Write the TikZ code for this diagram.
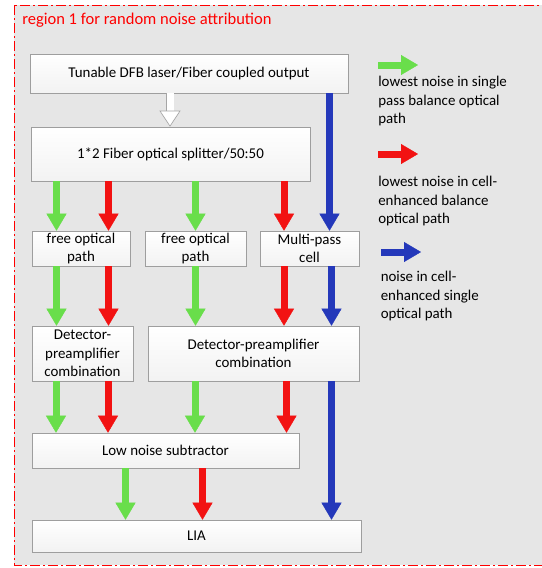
\documentclass[tikz,border=0pt]{standalone}
\usepackage{fontspec}
\setmainfont{Carlito}
\usetikzlibrary{arrows.meta}
\newdimen\px \px=0.75pt
\definecolor{gcol}{RGB}{105,222,75}
\definecolor{rcol}{RGB}{242,18,18}
\definecolor{bcol}{RGB}{36,56,186}
\definecolor{regionbg}{RGB}{230,230,230}

\begin{document}
\begin{tikzpicture}[x=0.75pt, y=-0.75pt,
    font=\fontsize{11.2}{14}\selectfont,
    box/.style={draw=black!38, top color=white, bottom color=black!5, inner sep=1pt, align=center},
    flow/.style={line width=5.25pt, -{Triangle[width=15pt, length=12.75pt, line width=0.3pt]}},
    legtext/.style={anchor=north west, inner sep=0pt, align=left}]
    \useasboundingbox[fill=white] (0,0) rectangle (542,568);
    % region frame
    \fill[regionbg] (14,5) rectangle (560,565);
    \draw[red, line width=1\px, dash pattern=on 10\px off 3\px on 2\px off 3\px] (14,5) rectangle (560,565);
    \node[anchor=west, inner sep=0pt, text=red, font=\fontsize{12.4}{15}\selectfont] (title) at (22,20) {region 1 for random noise attribution};
    % blocks
    \node[box, minimum width=318\px, minimum height=39\px] (laser) at (189,73.5) {Tunable DFB laser/Fiber coupled output};
    \node[box, minimum width=279\px, minimum height=54\px] (splitter) at (170.5,154) {1*2 Fiber optical splitter/50:50};
    \node[box, minimum width=98\px, minimum height=35\px] (free1) at (81,248.5) {free optical\\path};
    \node[box, minimum width=101\px, minimum height=35\px] (free2) at (195.5,248.5) {free optical\\path};
    \node[box, minimum width=99\px, minimum height=35\px] (mpc) at (309.5,248.5) {Multi-pass\\cell};
    \node[box, minimum width=101\px, minimum height=55\px] (det1) at (82.5,353.5) {Detector-\\preamplifier\\combination};
    \node[box, minimum width=211\px, minimum height=55\px] (det2) at (253.5,353.5) {Detector-preamplifier\\combination};
    \node[box, minimum width=267\px, minimum height=35\px] (sub) at (165.5,450.5) {Low noise subtractor};
    \node[box, minimum width=329\px, minimum height=32\px] (lia) at (196.5,536) {LIA};
    % light path arrows
    \draw[draw=black!35, line width=0.5pt, double=white, double distance=5.25pt,
        -{Triangle[width=15.75pt, length=12pt, line width=0.5pt, fill=white]}]
        (170,0 |- laser.south) -- (170,0 |- splitter.north);
    \foreach \col/\xx/\from/\to in {gcol/56.5/splitter/free1, rcol/108.5/splitter/free1,
            gcol/195.5/splitter/free2, rcol/284/splitter/mpc, bcol/329.5/laser/mpc,
            gcol/56.5/free1/det1, rcol/108.5/free1/det1, gcol/195.5/free2/det2,
            rcol/284/mpc/det2, bcol/331.5/mpc/det2,
            gcol/56/det1/sub, rcol/108/det1/sub, gcol/195/det2/sub,
            rcol/286.5/det2/sub, bcol/331.5/det2/lia,
            gcol/125.5/sub/lia, rcol/202.5/sub/lia} {
        \draw[flow, \col] (\xx,0 |- \from.south) -- (\xx,0 |- \to.north);
    }
    % legend
    \coordinate (leg1) at (378,65);
    \coordinate (leg2) at (378,154);
    \coordinate (leg3) at (381,252);
    \draw[flow, gcol] (leg1) -- ++(40,0);
    \draw[flow, rcol] (leg2) -- ++(40,0);
    \draw[flow, bcol] (leg3) -- ++(40,0);
    \node[legtext] (legtext1) at (378,76) {lowest noise in single\\pass balance optical\\path};
    \node[legtext] (legtext2) at (378,176) {lowest noise in cell-\\enhanced balance\\optical path};
    \node[legtext] (legtext3) at (380.5,271) {noise in cell-\\enhanced single\\optical path};
\end{tikzpicture}
\end{document}
